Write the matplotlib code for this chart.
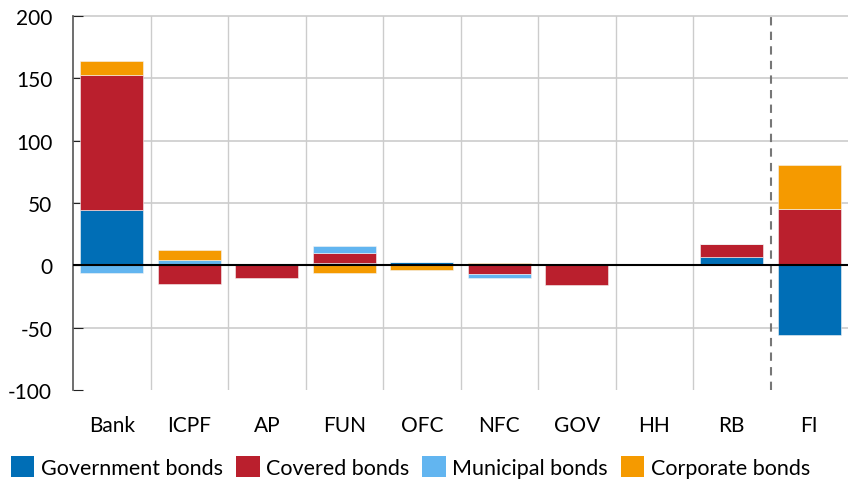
import matplotlib
matplotlib.use("Agg")
import matplotlib.pyplot as plt
import numpy as np
from matplotlib.patches import Patch

categories = ["Bank", "ICPF", "AP", "FUN", "OFC", "NFC", "GOV", "HH", "RB", "FI"]
government = [44, 0, 0, 1.5, 2.5, 0, 0, 0, 7, -56]
covered = [109, -15, -10, 8, 0, -7, -15.5, 0, 10, 45.5]
municipal = [-6, 4, 0, 6, 0, -3.5, 0, 0, 0, 0]
corporate = [11, 8, 0, -6, -3.5, 1.5, 0, 0, 0, 35]

series = [
    ("Government bonds", government, "#006EB6"),
    ("Covered bonds", covered, "#BA1F2D"),
    ("Municipal bonds", municipal, "#62B5F0"),
    ("Corporate bonds", corporate, "#F59A00"),
]

plt.rcParams['font.family'] = ['Lato', 'DejaVu Sans']
plt.rcParams['axes.unicode_minus'] = False

fig = plt.figure(figsize=(8.48, 4.85), dpi=100)
ax = fig.add_axes([73 / 848, 1 - 391 / 485, 775 / 848, 374 / 485])

x = np.arange(len(categories))
pos = np.zeros(len(categories))
neg = np.zeros(len(categories))
for name, vals, col in series:
    v = np.array(vals, dtype=float)
    bottoms = np.where(v >= 0, pos, neg)
    ax.bar(x, v, bottom=bottoms, width=0.81, color=col, edgecolor="#f4f4f4",
           linewidth=0.4, zorder=3)
    pos = pos + np.where(v >= 0, v, 0)
    neg = neg + np.where(v < 0, v, 0)

ax.set_xlim(-0.5, len(categories) - 0.5)
ax.set_ylim(-100, 200)
ax.set_yticks(np.arange(-100, 201, 50))
ax.set_xticks(x)
ax.set_xticklabels(categories)

for b in np.arange(0.5, len(categories) - 1, 1.0):
    if abs(b - 8.5) < 1e-6:
        ax.axvline(b, color="#777777", linestyle=(0, (4, 3)), linewidth=1.5, zorder=2)
    else:
        ax.axvline(b, color="#cccccc", linewidth=1, zorder=1)
for yv in [-50, 50, 100, 150, 200]:
    ax.axhline(yv, color="#cccccc", linewidth=1.2, zorder=1, clip_on=False)
ax.axhline(0, color="black", linewidth=1.5, zorder=4)

for s in ["top", "right", "bottom"]:
    ax.spines[s].set_visible(False)
ax.spines["left"].set_color("#555555")
ax.spines["left"].set_linewidth(1.2)
ax.tick_params(axis="y", direction="in", length=7, labelsize=15, pad=15, color="#222222")
ax.tick_params(axis="x", length=0, labelsize=15, pad=18)

handles = [Patch(facecolor=c, edgecolor="none") for _, _, c in series]
labels = [n for n, _, _ in series]
fig.legend(handles, labels, loc="center left", bbox_to_anchor=(0.0, 1 - 468 / 485), ncol=4,
           frameon=False, fontsize=15.5, handlelength=1.1, handleheight=1.1,
           handletextpad=0.3, columnspacing=0.6, borderaxespad=0.0, borderpad=0.5)

fig.savefig("out.png", dpi=100)
